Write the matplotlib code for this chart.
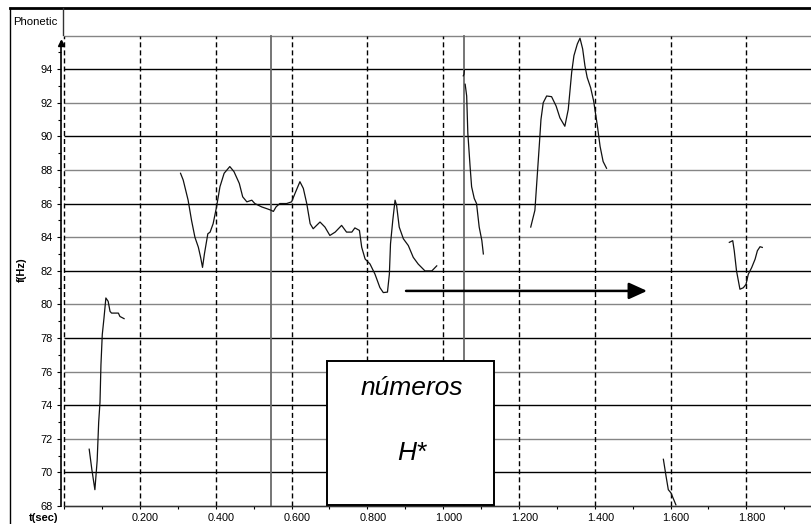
import matplotlib
matplotlib.use("Agg")
import matplotlib.pyplot as plt
from matplotlib.lines import Line2D
from matplotlib.patches import Rectangle
from matplotlib.transforms import ScaledTranslation

plt.rcParams['font.family'] = ['Liberation Sans', 'DejaVu Sans']

# ---- data: F0 contour segments (time in s, frequency in Hz) ----
seg1_t = [0.066, 0.073, 0.081, 0.087, 0.091, 0.0945, 0.097, 0.1005, 0.105, 0.110, 0.116, 0.121, 0.125, 0.143, 0.147, 0.158]
seg1_f = [71.38, 70.17, 68.97, 70.7, 72.98, 74.18, 76.4, 78.2, 79.18, 80.38, 80.18, 79.58, 79.48, 79.48, 79.28, 79.15]

seg2_t = [0.307, 0.314, 0.327, 0.336, 0.345, 0.354, 0.360, 0.365, 0.370, 0.379, 0.385, 0.393, 0.402, 0.411,
          0.422, 0.437, 0.448, 0.462, 0.471, 0.482, 0.495, 0.503, 0.521, 0.534, 0.546, 0.552, 0.559, 0.569,
          0.587, 0.600, 0.609, 0.622, 0.631, 0.640, 0.649, 0.657, 0.675, 0.688, 0.701, 0.715, 0.732, 0.745,
          0.759, 0.767, 0.779, 0.785, 0.794, 0.807, 0.820, 0.833, 0.842, 0.853, 0.858, 0.861, 0.867, 0.873,
          0.877, 0.884, 0.895, 0.908, 0.921, 0.934, 0.952, 0.970, 0.983]
seg2_f = [87.8, 87.4, 86.2, 85.0, 83.99, 83.4, 82.8, 82.2, 83.0, 84.2, 84.3, 84.8, 85.8, 87.0,
          87.8, 88.2, 87.9, 87.2, 86.4, 86.1, 86.2, 86.0, 85.8, 85.7, 85.6, 85.53, 85.8, 86.0,
          86.0, 86.1, 86.6, 87.3, 86.9, 86.0, 84.8, 84.5, 84.9, 84.6, 84.1, 84.3, 84.7, 84.3,
          84.3, 84.55, 84.4, 83.4, 82.7, 82.4, 81.8, 81.0, 80.7, 80.73, 81.8, 83.6, 85.0, 86.2,
          85.9, 84.6, 83.9, 83.5, 82.8, 82.4, 81.99, 81.99, 82.29]

seg3_t = [1.058, 1.062, 1.065, 1.071, 1.075, 1.082, 1.088, 1.095, 1.102, 1.106]
seg3_f = [93.1, 92.4, 90.2, 88.2, 87.0, 86.3, 86.0, 84.6, 83.8, 83.0]

seg3b_t = [1.053, 1.055, 1.056]
seg3b_f = [93.6, 93.7, 93.95]

seg4_t = [1.231, 1.242, 1.248, 1.254, 1.258, 1.264, 1.273, 1.286, 1.298, 1.308, 1.321, 1.330, 1.339,
          1.345, 1.354, 1.361, 1.368, 1.374, 1.380, 1.389, 1.397, 1.407, 1.414, 1.422, 1.431]
seg4_f = [84.6, 85.6, 87.6, 89.6, 91.0, 92.0, 92.4, 92.36, 91.8, 91.1, 90.6, 91.6, 93.8,
          94.8, 95.5, 95.84, 95.2, 94.2, 93.5, 92.9, 92.1, 90.6, 89.4, 88.5, 88.1]

seg5_t = [1.581, 1.588, 1.594, 1.601, 1.614]
seg5_f = [70.78, 69.78, 68.97, 68.78, 68.07]

seg6_t = [1.755, 1.764, 1.768, 1.774, 1.783, 1.792, 1.799, 1.805, 1.814, 1.823, 1.829, 1.836, 1.842]
seg6_f = [83.69, 83.79, 83.19, 81.99, 80.9, 80.99, 81.19, 81.79, 82.19, 82.69, 83.19, 83.43, 83.39]

segments = [(seg1_t, seg1_f), (seg2_t, seg2_f), (seg3b_t, seg3b_f), (seg3_t, seg3_f),
            (seg4_t, seg4_f), (seg5_t, seg5_f), (seg6_t, seg6_f)]

# boundaries (solid vertical lines) and arrow
boundary_t = [0.546, 1.055]
arrow_t = [0.902, 1.538]
arrow_f = 80.8

xticks = [0.2, 0.4, 0.6, 0.8, 1.0, 1.2, 1.4, 1.6, 1.8]
xtick_labels = ["0.200", "0.400", "0.600", "0.800", "1.000", "1.200", "1.400", "1.600", "1.800"]
yticks = [68, 70, 72, 74, 76, 78, 80, 82, 84, 86, 88, 90, 92, 94]

W, H = 811, 524
fig = plt.figure(figsize=(W / 100, H / 100), dpi=100)
fig.patch.set_facecolor('white')

def fx(x):
    return x / W

def fy(y):
    return 1 - y / H

ax_left, ax_top, ax_bottom = 61, 35.5, 506
ax = fig.add_axes([fx(ax_left), fy(ax_bottom), fx(W - ax_left), (ax_bottom - ax_top) / H])
XMIN, XMAX = -0.0084, 1.9705
ax.set_xlim(XMIN, XMAX)
ax.set_ylim(68, 96)

# horizontal grid lines, alternating gray / black
for v in range(68, 97, 2):
    col = '#858585' if v % 4 == 0 else '#000000'
    ax.plot([0, XMAX], [v, v], color=col, lw=1.0, clip_on=False, zorder=1, solid_capstyle='butt')

# dashed vertical lines
for t in [0.0] + xticks:
    ax.plot([t, t], [68, 96], color='black', lw=1.0, dashes=(3.6, 2.2), zorder=1.5, clip_on=False)

# solid vertical boundaries
for t in boundary_t:
    ax.plot([t, t], [68, 96], color='#6a6a6a', lw=1.3, zorder=1.6, clip_on=False)

# contour segments
for ts, fs in segments:
    ax.plot(ts, fs, color='#111111', lw=0.9, zorder=3, solid_joinstyle='round')

# arrow
ax.annotate('', xy=(arrow_t[1], arrow_f), xytext=(arrow_t[0], arrow_f),
            arrowprops=dict(arrowstyle='-|>,head_length=1.1,head_width=0.5', lw=1.8,
                            color='black', mutation_scale=10, shrinkA=0, shrinkB=0), zorder=4)

# spines
for s in ['top', 'right']:
    ax.spines[s].set_visible(False)
ax.spines['left'].set_color('black')
ax.spines['left'].set_linewidth(1.2)
ax.spines['left'].set_bounds(68, 95.6)
ax.spines['bottom'].set_color('#333333')
ax.spines['bottom'].set_linewidth(1.0)
ax.spines['bottom'].set_bounds(0, XMAX)
ax.plot([XMIN], [95.55], marker='^', color='black', markersize=4.5, clip_on=False, zorder=5)

ax.set_xticks(xticks)
ax.set_xticklabels(xtick_labels)
ax.set_xticks([0.0, 0.1, 0.3, 0.5, 0.7, 0.9, 1.1, 1.3, 1.5, 1.7, 1.9], minor=True)
ax.set_yticks(yticks)
ax.set_yticklabels([str(v) for v in yticks])
ax.set_yticks(list(range(69, 96, 2)), minor=True)
ax.tick_params(axis='x', which='major', length=2.5, width=0.8, pad=2.5, labelsize=7.8, colors='black')
ax.tick_params(axis='x', which='minor', length=2.2, width=0.8)
ax.tick_params(axis='y', which='major', length=3.2, width=0.8, pad=3, labelsize=7.9, colors='black')
ax.tick_params(axis='y', which='minor', length=2.0, width=0.8)
for lab in ax.get_xticklabels():
    lab.set_transform(lab.get_transform() + ScaledTranslation(4 / 72, 0, fig.dpi_scale_trans))

fig.text(fx(22), fy(270), 'f(Hz)', rotation=90, ha='center', va='center', fontsize=8, fontweight='bold')
fig.text(fx(44), fy(518), 't(sec)', ha='center', va='center', fontsize=8, fontweight='bold')

# frame and header cell
fig.add_artist(Line2D([fx(10), fx(811)], [fy(8), fy(8)], color='black', lw=2.0))
fig.add_artist(Line2D([fx(10), fx(10)], [fy(8), fy(524)], color='black', lw=1.0))
fig.add_artist(Line2D([fx(63), fx(63)], [fy(8), fy(35)], color='#333333', lw=1.0))
fig.text(fx(13), fy(22), 'Phonetic', ha='left', va='center', fontsize=8.2)

# label box
box = Rectangle((fx(327), fy(505)), fx(494 - 327), (505 - 361) / H, transform=fig.transFigure,
                facecolor='white', edgecolor='black', lw=1.4, zorder=10)
fig.add_artist(box)
fig.text(fx(412), fy(388), 'números', ha='center', va='center', fontsize=19, style='italic', zorder=11)
fig.text(fx(412), fy(453), 'H*', ha='center', va='center', fontsize=19, style='italic', zorder=11)

fig.savefig('out.png', dpi=100)
